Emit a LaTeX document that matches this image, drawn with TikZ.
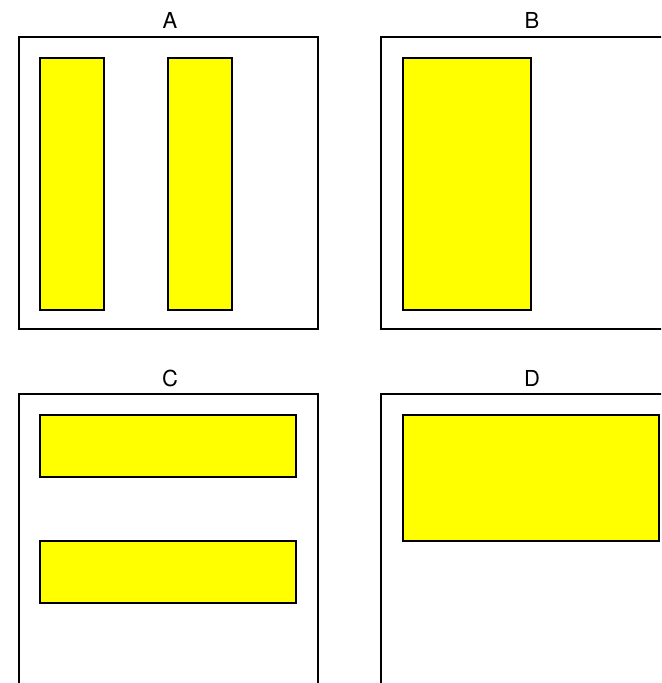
\documentclass[tikz,border=0pt]{standalone}
\usepackage{fontspec}
\setsansfont{TeX Gyre Heros}
\definecolor{slabyellow}{RGB}{255,255,0}
\begin{document}
\begin{tikzpicture}[x=0.5pt,y=-0.5pt,every node/.style={font=\sffamily\fontsize{11}{13}\selectfont,inner sep=0pt},
  frame/.style={line width=1.15pt,line cap=rect},
  slab/.style={draw,fill=slabyellow,line width=0.8pt}]
\useasboundingbox (0,0) rectangle (661,683);
\clip (0,0) rectangle (661,683);
% A: two upright slabs
\node[anchor=base] (labA) at (170,29) {A};
\draw[frame] (19,37) rectangle (318,329);
\draw[slab] (40,58) rectangle (104,310); \draw[slab] (168,58) rectangle (232,310);
% B: one wide upright slab
\node[anchor=base] (labB) at (532,29) {B};
\draw[frame] (670,37)--(381,37)--(381,329)--(670,329);
\draw[slab] (403,58) rectangle (531,310);
% C: two flat slabs
\node[anchor=base] (labC) at (170,386) {C};
\draw[frame] (19,700)--(19,394)--(318,394)--(318,700);
\draw[slab] (40,415) rectangle (296,477); \draw[slab] (40,541) rectangle (296,603);
% D: one wide flat slab
\node[anchor=base] (labD) at (532,386) {D};
\draw[frame] (381,700)--(381,394)--(670,394);
\draw[slab] (403,415) rectangle (659,541);
\end{tikzpicture}
\end{document}
